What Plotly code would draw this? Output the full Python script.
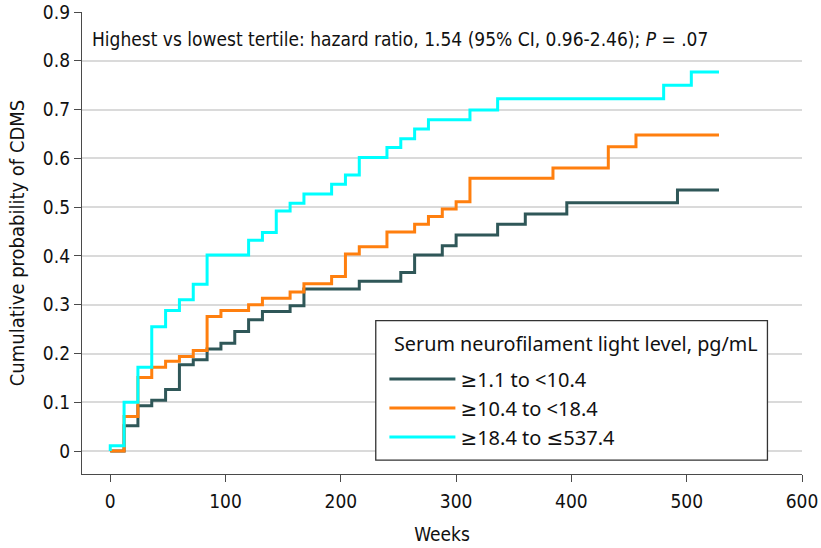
import plotly.graph_objects as go

# ---- data ----
low_weeks = [0, 12, 24, 36, 48, 60, 72, 84, 96, 108, 120, 132, 156, 168, 216, 252, 264, 288, 300, 336, 360, 396, 492, 528]
low_vals = [0, 0.052, 0.093, 0.104, 0.126, 0.177, 0.187, 0.209, 0.221, 0.245, 0.269, 0.286, 0.298, 0.332, 0.348, 0.366, 0.402, 0.421, 0.443, 0.465, 0.486, 0.509, 0.535, 0.535]

mid_weeks = [0, 12, 24, 36, 48, 60, 72, 84, 96, 120, 132, 156, 168, 192, 204, 216, 240, 264, 276, 288, 300, 312, 384, 432, 456, 528]
mid_vals = [0, 0.071, 0.151, 0.172, 0.184, 0.194, 0.206, 0.276, 0.288, 0.300, 0.313, 0.326, 0.343, 0.358, 0.404, 0.419, 0.449, 0.465, 0.481, 0.496, 0.511, 0.559, 0.580, 0.624, 0.648, 0.648]

high_weeks = [0, 0, 12, 24, 36, 48, 60, 72, 84, 120, 132, 144, 156, 168, 192, 204, 216, 240, 252, 264, 276, 312, 336, 480, 504, 528]
high_vals = [0, 0.011, 0.100, 0.172, 0.255, 0.288, 0.310, 0.342, 0.402, 0.432, 0.448, 0.492, 0.508, 0.527, 0.547, 0.566, 0.602, 0.622, 0.640, 0.660, 0.679, 0.699, 0.722, 0.750, 0.777, 0.777]

series_names = ["≥1.1 to <10.4", "≥10.4 to <18.4", "≥18.4 to ≤537.4"]
series_colors = ["#2F5758", "#FF7F0E", "#00FFFF"]

x_ticks = [0, 100, 200, 300, 400, 500, 600]
y_ticks = [0, 0.1, 0.2, 0.3, 0.4, 0.5, 0.6, 0.7, 0.8, 0.9]
y_tick_labels = ["0", "0.1", "0.2", "0.3", "0.4", "0.5", "0.6", "0.7", "0.8", "0.9"]

legend_title = "Serum neurofilament light level, pg/mL"
note_text = "Highest vs lowest tertile: hazard ratio, 1.54 (95% CI, 0.96-2.46); <i>P</i> = .07"

FONT = "Noto Sans, DejaVu Sans, sans-serif"
NARROW = "Liberation Sans Narrow, DejaVu Sans Condensed, Noto Sans, sans-serif"
AXIS_COLOR = "#4a4a4a"

fig = go.Figure()
for i, (wk, vals) in enumerate([(low_weeks, low_vals), (mid_weeks, mid_vals), (high_weeks, high_vals)]):
    fig.add_trace(go.Scatter(
        x=wk, y=vals, mode="lines", line_shape="hv",
        line=dict(color=series_colors[i], width=3),
        name=series_names[i], legendgroup=f"g{i}",
        hoverinfo="skip",
    ))

# note at top-left of the plot
fig.add_annotation(
    text=note_text, xref="paper", yref="y", x=0.0, y=0.845,
    xanchor="left", yanchor="middle", showarrow=False, xshift=8,
    font=dict(family=NARROW, size=19, color="#111"),
)

# legend frame + title (legend entries are Plotly's own legend)
fig.add_shape(
    type="rect", xref="paper", yref="paper",
    x0=0.408, x1=0.952, y0=0.030, y1=0.332,
    line=dict(color="#333", width=1.3), fillcolor="white", layer="above",
)
fig.add_annotation(
    text=legend_title, xref="paper", yref="paper", x=0.430, y=0.283,
    xanchor="left", yanchor="middle", showarrow=False,
    font=dict(family=FONT, size=19.8, color="#111"),
)

fig.update_layout(
    width=821, height=548,
    margin=dict(l=82, r=19, t=12, b=74),
    plot_bgcolor="white", paper_bgcolor="white",
    font=dict(family=FONT, size=18, color="#111"),
    showlegend=True,
    legend=dict(
        x=0.420, y=0.248, xanchor="left", yanchor="top",
        bgcolor="rgba(0,0,0,0)", borderwidth=0,
        font=dict(family=FONT, size=20, color="#111"),
        tracegroupgap=0, itemwidth=66,
    ),
    xaxis=dict(
        range=[-24.5, 600], tickvals=x_ticks, ticktext=[str(v) for v in x_ticks],
        showgrid=False, zeroline=False, automargin=False,
        showline=True, linecolor=AXIS_COLOR, linewidth=1.3,
        ticks="outside", ticklen=7, tickwidth=1.3, tickcolor=AXIS_COLOR,
        ticklabelstandoff=3, ticklabeloverflow="allow",
        tickfont=dict(family=NARROW, size=19, color="#111"),
        title=dict(text="Weeks", font=dict(family=NARROW, size=19, color="#111"), standoff=16),
    ),
    yaxis=dict(
        range=[-0.047, 0.9], tickvals=y_ticks, ticktext=y_tick_labels,
        showgrid=True, gridcolor="#dadada", gridwidth=1.5, zeroline=False, automargin=False,
        showline=True, linecolor=AXIS_COLOR, linewidth=1.3,
        ticks="outside", ticklen=7, tickwidth=1.3, tickcolor=AXIS_COLOR,
        ticklabeloverflow="allow",
        tickfont=dict(family=NARROW, size=19, color="#111"),
        title=dict(text="Cumulative probability of CDMS", font=dict(family=NARROW, size=20, color="#111"), standoff=12),
    ),
)

# remove the browser's default page margin so the 821x548 figure fills the window
fig.write_html(
    "out.html",
    config={"displayModeBar": False},
    post_script="document.body.style.margin='0';",
)
